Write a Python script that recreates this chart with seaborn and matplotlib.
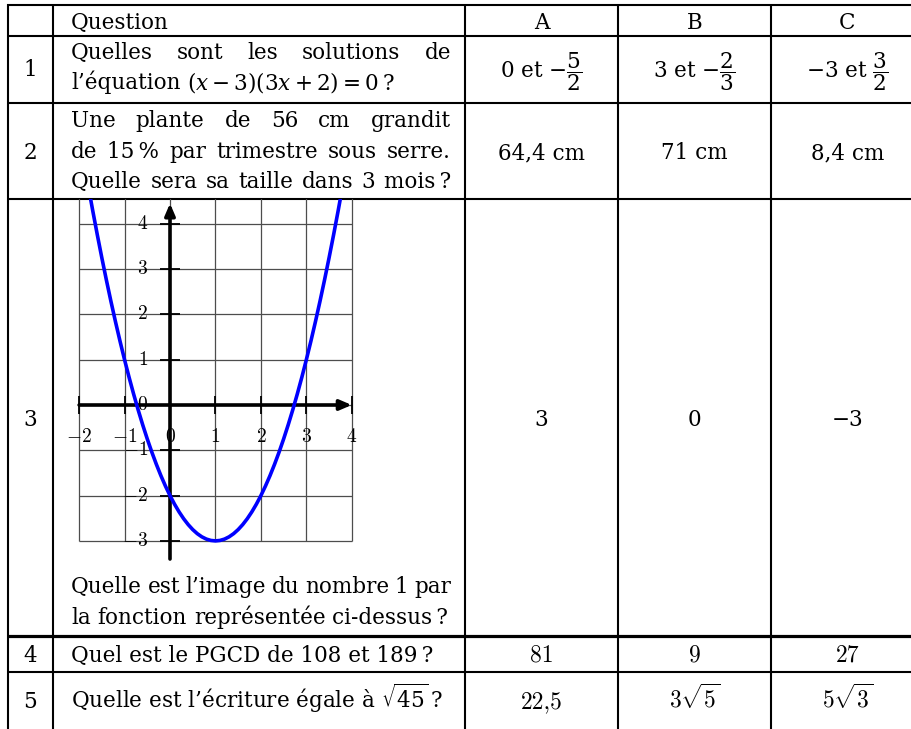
import matplotlib
matplotlib.use("Agg")
import matplotlib.pyplot as plt
import seaborn as sns

sns.set_style("white")
plt.rcParams["font.family"] = ["DejaVu Serif"]
plt.rcParams["mathtext.fontset"] = "dejavuserif"
plt.rcParams["text.color"] = "black"

# ---------------- data ----------------
header = ["Question", "A", "B", "C"]
row_numbers = ["1", "2", "3", "4", "5"]

q1_lines = [["Quelles", "sont", "les", "solutions", "de"],
            ["l’équation", "$(x-3)(3x+2)=0$\u2009?"]]
q2_lines = [["Une", "plante", "de", "56", "cm", "grandit"],
            ["de", "15\u2009%", "par", "trimestre", "sous", "serre."],
            ["Quelle", "sera", "sa", "taille", "dans", "3", "mois\u2009?"]]
q3_lines = [["Quelle", "est", "l’image", "du", "nombre", "1", "par"],
            ["la", "fonction", "représentée", "ci-dessus\u2009?"]]
q4_text = "Quel est le PGCD de 108 et 189\u2009?"
q5_text = "Quelle est l’écriture égale à $\\sqrt{45}$\u2009?"

answers_A = ["0 et $-\\dfrac{5}{2}$", "64,4 cm", "3", "81", "22,5"]
answers_B = ["3 et $-\\dfrac{2}{3}$", "71 cm", "0", "9", "$3\\sqrt{5}$"]
answers_C = ["$-$3 et $\\dfrac{3}{2}$", "8,4 cm", "\u22123", "27", "$5\\sqrt{3}$"]

grid_x = [-2, -1, 0, 1, 2, 3, 4]
grid_y = [-3, -2, -1, 0, 1, 2, 3, 4]
tick_x_labels = ["$-2$", "$-1$", "$0$", "$1$", "$2$", "$3$", "$4$"]
tick_y_labels = ["$-3$", "$-2$", "$-1$", "$0$", "$1$", "$2$", "$3$", "$4$"]

curve_x = [-1.8, -1.7, -1.6, -1.5, -1.4, -1.3, -1.2, -1.1, -1.0, -0.9, -0.8, -0.7,
           -0.6, -0.5, -0.4, -0.3, -0.2, -0.1, 0.0, 0.1, 0.2, 0.3, 0.4, 0.5, 0.6,
           0.7, 0.8, 0.9, 1.0, 1.1, 1.2, 1.3, 1.4, 1.5, 1.6, 1.7, 1.8, 1.9, 2.0,
           2.1, 2.2, 2.3, 2.4, 2.5, 2.6, 2.7, 2.8, 2.9, 3.0, 3.1, 3.2, 3.3, 3.4,
           3.5, 3.6, 3.7, 3.8]
curve_y = [4.84, 4.29, 3.76, 3.25, 2.76, 2.29, 1.84, 1.41, 1.00, 0.61, 0.24, -0.11,
           -0.44, -0.75, -1.04, -1.31, -1.56, -1.79, -2.00, -2.19, -2.36, -2.51, -2.64,
           -2.75, -2.84, -2.91, -2.96, -2.99, -3.00, -2.99, -2.96, -2.91, -2.84, -2.75,
           -2.64, -2.51, -2.36, -2.19, -2.00, -1.79, -1.56, -1.31, -1.04, -0.75, -0.44,
           -0.11, 0.24, 0.61, 1.00, 1.41, 1.84, 2.29, 2.76, 3.25, 3.76, 4.29, 4.84]

# ---------------- layout (pixels) ----------------
W, H = 912, 729
col_x = [8, 53, 465, 618, 771, 924]
row_y = [5, 36, 103, 199, 636, 672]
FS = 15.5
TXT_X0, TXT_X1 = 71, 451

fig = plt.figure(figsize=(W / 100, H / 100), dpi=100)
tab = fig.add_axes([0, 0, 1, 1])
tab.set_xlim(0, W)
tab.set_ylim(H, 0)
tab.axis("off")

# table lines
for x in col_x[:-1]:
    tab.plot([x, x], [row_y[0] - 1, H + 5], color="k", lw=1.5, solid_capstyle="butt")
for i, y in enumerate(row_y):
    tab.plot([col_x[0] - 1, W + 5], [y, y], color="k", lw=2.3 if i == 4 else 1.5,
             solid_capstyle="butt")

renderer = fig.canvas.get_renderer()


def measure(s, **kw):
    t = tab.text(0, 0, s, fontsize=FS, **kw)
    w = t.get_window_extent(renderer).width
    t.remove()
    return w


SPACE = measure("a a") - measure("aa")


def place_line(words, y, justify=True):
    ts = [tab.text(0, y, w, fontsize=FS, va="baseline", ha="left") for w in words]
    ws = [t.get_window_extent(renderer).width for t in ts]
    if justify and len(words) > 1:
        gap = (TXT_X1 - TXT_X0 - sum(ws)) / (len(words) - 1)
        gap = max(gap, SPACE * 0.6)
    else:
        gap = SPACE
    x = TXT_X0
    for t, w in zip(ts, ws):
        t.set_x(x)
        x += w + gap


centers = [(col_x[i] + col_x[i + 1]) / 2 for i in range(len(col_x) - 1)]

# header
tab.text(TXT_X0, 28.5, header[0], fontsize=FS, va="baseline", ha="left")
for j, h in enumerate(header[1:]):
    tab.text(centers[2 + j], 28.5, h, fontsize=FS, va="baseline", ha="center")

# row numbers
num_base = [76, 159, 426, 662, 708]
for n, yb in zip(row_numbers, num_base):
    tab.text(centers[0], yb, n, fontsize=FS, va="baseline", ha="center")

# questions
place_line(q1_lines[0], 59)
place_line(q1_lines[1], 89, justify=False)
for ln, yb in zip(q2_lines, [127, 157.5, 188]):
    place_line(ln, yb)
place_line(q3_lines[0], 593)
place_line(q3_lines[1], 624, justify=False)
tab.text(TXT_X0, 662, q4_text, fontsize=FS, va="baseline", ha="left")
tab.text(TXT_X0, 708, q5_text, fontsize=FS, va="baseline", ha="left")

# answers
ans_base = [78, 159, 426, 662, 708]
for j, col in enumerate([answers_A, answers_B, answers_C]):
    cx = centers[2 + j]
    for i, (a, yb) in enumerate(zip(col, ans_base)):
        if i == 3 or (i == 4 and j == 0):
            tab.text(cx, yb, a, fontsize=17, va="baseline", ha="center", family="cmr10")
        elif i == 4:
            tab.text(cx, yb, a, fontsize=17, va="baseline", ha="center",
                     math_fontfamily="cm")
        else:
            tab.text(cx, yb, a, fontsize=FS, va="baseline", ha="center")

# ---------------- graph ----------------
ux, uy = 45.45, 45.3
ox, oy = 170, 405
gl, gr, gt, gb = 60, 370, 199, 575
gx = fig.add_axes([gl / W, (H - gb) / H, (gr - gl) / W, (gb - gt) / H])
gx.axis("off")

gx.vlines(grid_x, -3, 6, color="0.3", lw=0.9, zorder=1)
gx.hlines(grid_y, -2, 4, color="0.3", lw=0.9, zorder=1)
gx.hlines(grid_y, -0.22, 0.22, color="k", lw=1.3, zorder=2)
gx.vlines(grid_x, -0.2, 0.2, color="k", lw=1.3, zorder=2)

arrow = dict(arrowstyle="-|>,head_length=0.7,head_width=0.3", lw=2.6, color="k",
             shrinkA=0, shrinkB=0)
gx.annotate("", xy=(4, 0), xytext=(-2, 0), arrowprops=arrow, zorder=3)
gx.annotate("", xy=(0, 4.45), xytext=(0, -3.4), arrowprops=arrow, zorder=3)

sns.lineplot(x=curve_x, y=curve_y, ax=gx, color="#0000ff", lw=2.6, sort=False,
             estimator=None, zorder=4)

for v, lab in zip(grid_x, tick_x_labels):
    gx.text(v, -0.7, lab, fontsize=14, ha="center", va="center",
            math_fontfamily="cm", zorder=5)
for v, lab in zip(grid_y, tick_y_labels):
    gx.text(-0.48, v, lab, fontsize=14, ha="right", va="center",
            math_fontfamily="cm", zorder=5)

gx.set_xlim((gl - ox) / ux, (gr - ox) / ux)
gx.set_ylim((oy - gb) / uy, (oy - gt) / uy)
gx.axis("off")

fig.savefig("out.png", dpi=100)
